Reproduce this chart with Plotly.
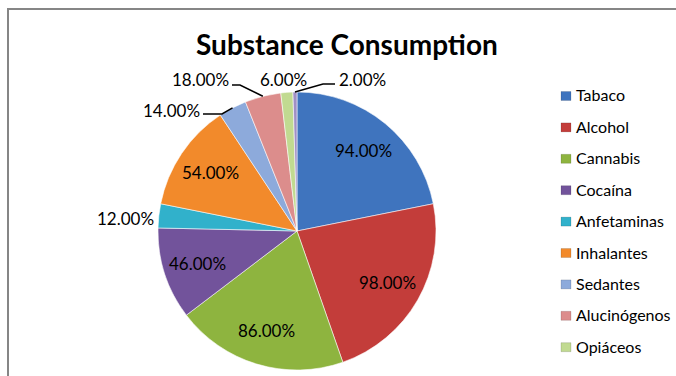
import math
import plotly.graph_objects as go

# Substance use shares (value shown on each slice is the value itself, in %)
categories = ["Tabaco", "Alcohol", "Cannabis", "Cocaína", "Anfetaminas",
              "Inhalantes", "Sedantes", "Alucinógenos", "Opiáceos", "Otras"]
values = [94, 98, 86, 46, 12, 54, 14, 18, 6, 2]
colors = ["#3F74BE", "#C33D3A", "#8EB43F", "#72539B", "#31B1CB",
          "#F28A2B", "#8DAADB", "#DC8D8C", "#C1DA91", "#A090C5"]
title_text = "Substance Consumption"

W, H = 676, 376
FONT = "Lato, 'Noto Sans', sans-serif"


def px(x):
    return x / W


def py(y):
    return 1 - y / H


# pie placement in page pixels
cx, cy, R = 297, 231, 139

fig = go.Figure()
fig.add_trace(go.Pie(
    labels=categories,
    values=values,
    sort=False,
    direction="clockwise",
    rotation=0,
    marker=dict(colors=colors, line=dict(color="rgba(255,255,255,0.55)", width=1)),
    textinfo="none",
    domain=dict(x=[px(cx - R), px(cx + R)], y=[py(cy + R), py(cy - R)]),
    showlegend=False,
    hoverinfo="label+value",
))

# mid angle of every slice (degrees clockwise from 12 o'clock)
total = sum(values)
mids = []
acc = 0
for v in values:
    mids.append((acc + v / 2) / total * 360)
    acc += v


def polar_point(i, r):
    a = math.radians(mids[i])
    return cx + r * math.sin(a), cy - r * math.cos(a)


annotations = []
shapes = []
LABEL_FONT = dict(family=FONT, size=17, color="#000000")

# wide slices: value written inside, along the slice's mid angle
for i, v in enumerate(values):
    if v >= 40:
        x, y = polar_point(i, 0.75 * R)
        annotations.append(dict(
            x=px(x), y=py(y), xref="paper", yref="paper",
            text=f"{v:.2f}%", showarrow=False,
            xanchor="center", yanchor="middle", font=LABEL_FONT,
        ))

# thin slices: value written outside, with an optional leader elbow
outside = {
    4: dict(pos=(125, 218), leader=None),
    6: dict(pos=(171, 110), leader=[(203, 114), (222, 114)]),
    7: dict(pos=(200, 79), leader=[(232, 85), (240, 85)]),
    8: dict(pos=(283, 79), leader=None),
    9: dict(pos=(362, 79), leader=[(335, 84), (323, 84)]),
}
for i, spec in outside.items():
    x, y = spec["pos"]
    annotations.append(dict(
        x=px(x), y=py(y), xref="paper", yref="paper",
        text=f"{values[i]:.2f}%", showarrow=False,
        xanchor="center", yanchor="middle", font=LABEL_FONT,
    ))
    if spec["leader"]:
        pts = spec["leader"] + [polar_point(i, R)]
        path = "M " + " L ".join(f"{px(a)},{py(b)}" for a, b in pts)
        shapes.append(dict(type="path", path=path, xref="paper", yref="paper",
                           line=dict(color="#000000", width=1.5)))

# legend: nine rows fit inside the chart area
legend_top, legend_step = 95.5, 31.4
for i, name in enumerate(categories[:9]):
    yc = legend_top + i * legend_step
    shapes.append(dict(type="rect", xref="paper", yref="paper",
                       x0=px(561), x1=px(571), y0=py(yc + 5), y1=py(yc - 4),
                       fillcolor=colors[i], line=dict(color="rgba(0,0,0,0.25)", width=0.5)))
    annotations.append(dict(
        x=px(574), y=py(yc - 0.5), xref="paper", yref="paper",
        text=name, showarrow=False, xanchor="left", yanchor="middle",
        font=dict(family=FONT, size=16, color="#000000"),
    ))

# chart title
annotations.append(dict(
    x=px(347), y=py(44), xref="paper", yref="paper",
    text=f"<b>{title_text}</b>", showarrow=False,
    xanchor="center", yanchor="middle",
    font=dict(family=FONT, size=28, color="#000000"),
))

# chart area border
shapes.append(dict(type="rect", xref="paper", yref="paper",
                   x0=px(8), x1=px(W + 20), y0=py(H + 20), y1=py(9),
                   line=dict(color="#868686", width=2), fillcolor="rgba(0,0,0,0)"))

fig.update_layout(
    width=W, height=H,
    margin=dict(l=0, r=0, t=0, b=0),
    paper_bgcolor="#FFFFFF",
    plot_bgcolor="#FFFFFF",
    annotations=annotations,
    shapes=shapes,
    showlegend=False,
)

fig.write_html("out.html")
